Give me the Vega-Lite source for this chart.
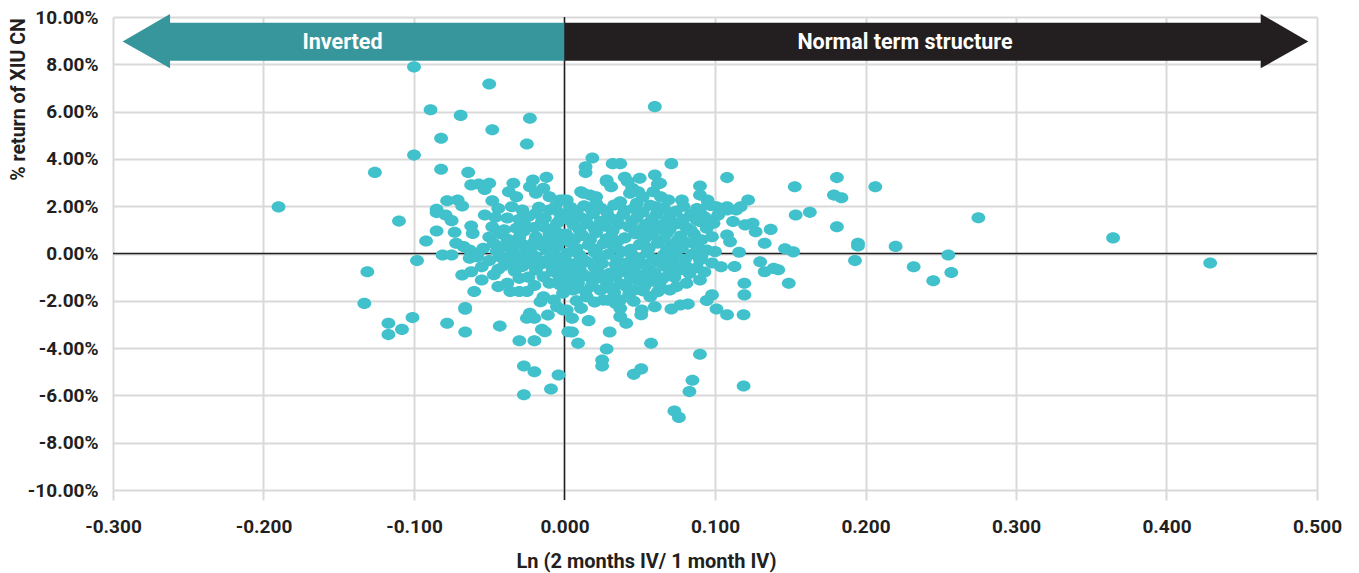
{
"$schema":"https://vega.github.io/schema/vega-lite/v6.json",
"width":1204,"height":473,
"autosize":{"type":"none"},
"padding":{"left":113,"top":17,"right":42,"bottom":83},
"background":"white",
"config":{"font":"Roboto","view":{"stroke":null}},
"encoding":{
 "x":{"field":"x","type":"quantitative","scale":{"domain":[-0.3,0.5],"nice":false,"zero":false},
  "axis":{"title":"Ln (2 months IV/ 1 month IV)","values":[-0.3,-0.2,-0.1,0,0.1,0.2,0.3,0.4,0.5],
   "labelExpr":"replace(format(datum.value,'.3f'),'\u2212','-')","domain":false,"grid":true,"gridColor":"#D9D9D9","gridWidth":2,
   "ticks":true,"tickColor":"#D9D9D9","tickWidth":2,"tickSize":10,"labelPadding":32,"labelBaseline":"alphabetic",
   "labelFont":"Roboto","labelFontWeight":"bold","labelFontSize":19,"labelColor":"#231F20","labelFlush":false,"labelOverlap":false,
   "titleFont":"Roboto","titleFontWeight":"bold","titleFontSize":20,"titleColor":"#231F20","titleX":533,"titleY":77,"titleBaseline":"alphabetic","titleAlign":"center"}},
 "y":{"field":"y","type":"quantitative","scale":{"domain":[-10,10],"nice":false,"zero":false},
  "axis":{"title":"% return of XIU CN","values":[-10,-8,-6,-4,-2,0,2,4,6,8,10],
   "labelExpr":"replace(format(datum.value,'.2f'),'\u2212','-')+'%'","domain":false,"grid":true,"gridColor":"#D9D9D9","gridWidth":2,
   "ticks":false,"labelPadding":15,"labelBaseline":"middle",
   "labelFont":"Roboto","labelFontWeight":"bold","labelFontSize":19,"labelColor":"#231F20","labelFlush":false,"labelOverlap":false,
   "titleFont":"Roboto","titleFontWeight":"bold","titleFontSize":19.5,"titleColor":"#231F20","titleX":-95,"titleY":82,"titleAngle":-90,"titleBaseline":"middle","titleAlign":"center"}}
},
"layer":[
 {"data":{"values":[{"x":0,"y":10,"y2":-10.42}]},"mark":{"type":"rule","color":"#231F20","strokeWidth":1.5},
  "encoding":{"y2":{"field":"y2"}}},
 {"data":{"values":[{"x":-0.3,"x2":0.5,"y":0}]},"mark":{"type":"rule","color":"#231F20","strokeWidth":1.5},
  "encoding":{"x2":{"field":"x2"}}},
 {"data":{"values":[
{"x":-0.100,"y":7.89},{"x":-0.050,"y":7.17},{"x":-0.089,"y":6.08},{"x":-0.069,"y":5.84},{"x":-0.023,"y":5.72},{"x":-0.048,"y":5.23},{"x":-0.082,"y":4.87},{"x":-0.025,"y":4.63},{"x":-0.100,"y":4.16},{"x":-0.126,"y":3.43},{"x":-0.082,"y":3.56},{"x":-0.064,"y":3.43},
{"x":-0.062,"y":2.90},{"x":-0.057,"y":2.94},{"x":-0.050,"y":2.97},{"x":-0.053,"y":2.71},{"x":-0.034,"y":2.97},{"x":-0.037,"y":2.61},{"x":-0.032,"y":2.40},{"x":-0.021,"y":3.11},{"x":-0.012,"y":3.22},{"x":-0.023,"y":2.82},{"x":-0.014,"y":2.76},{"x":-0.019,"y":2.55},{"x":-0.010,"y":2.40},{"x":-0.001,"y":2.26},{"x":-0.048,"y":2.23},{"x":-0.078,"y":2.23},{"x":-0.071,"y":2.26},{"x":-0.068,"y":2.01},{"x":-0.085,"y":1.87},
{"x":0.060,"y":6.21},{"x":0.0185,"y":4.04},{"x":0.014,"y":3.67},{"x":0.014,"y":3.42},{"x":0.032,"y":3.80},{"x":0.037,"y":3.80},{"x":0.071,"y":3.80},{"x":0.028,"y":3.11},{"x":0.031,"y":2.82},{"x":0.040,"y":3.22},{"x":0.042,"y":3.04},{"x":0.050,"y":3.18},{"x":0.060,"y":3.32},{"x":0.062,"y":2.94},{"x":0.045,"y":2.76},{"x":0.049,"y":2.61},{"x":0.052,"y":2.40},{"x":0.059,"y":2.61},{"x":0.064,"y":2.40},{"x":0.069,"y":2.26},{"x":0.078,"y":2.26},{"x":0.090,"y":2.85},{"x":0.090,"y":2.47},{"x":0.095,"y":2.26},{"x":0.108,"y":3.21},{"x":0.122,"y":2.26},{"x":0.153,"y":2.82},{"x":0.011,"y":2.61},{"x":0.017,"y":2.47},{"x":0.021,"y":2.40},{"x":0.0015,"y":2.26},{"x":-0.003,"y":2.26},{"x":0.108,"y":1.98},{"x":0.117,"y":1.98},{"x":0.028,"y":3.04},{"x":0.0635,"y":2.97},{"x":0.0125,"y":2.55},{"x":0.021,"y":2.12},{"x":0.037,"y":2.19},{"x":0.0435,"y":2.55},{"x":0.048,"y":2.12},{"x":0.061,"y":1.98},{"x":0.0955,"y":2.12},{"x":0.101,"y":1.98},{"x":0.108,"y":1.84},{"x":0.114,"y":1.84},{"x":-0.003,"y":1.42},
{"x":-0.110,"y":1.37},{"x":-0.085,"y":1.73},{"x":-0.079,"y":1.63},{"x":-0.075,"y":1.39},{"x":-0.085,"y":0.95},{"x":-0.092,"y":0.53},{"x":-0.073,"y":0.90},{"x":-0.062,"y":1.16},{"x":-0.061,"y":0.85},{"x":-0.053,"y":1.63},{"x":-0.046,"y":1.53},{"x":-0.048,"y":1.13},{"x":-0.043,"y":0.85},{"x":-0.072,"y":0.43},{"x":-0.067,"y":0.29},{"x":-0.063,"y":0.15},{"x":-0.058,"y":0.01},{"x":-0.054,"y":0.22},{"x":-0.081,"y":-0.06},{"x":-0.075,"y":-0.06},{"x":-0.063,"y":-0.20},{"x":-0.058,"y":-0.14},{"x":-0.047,"y":0.43},{"x":-0.041,"y":0.29},{"x":-0.043,"y":-0.14},
{"x":-0.035,"y":1.98},{"x":-0.028,"y":1.84},{"x":-0.024,"y":1.56},{"x":-0.032,"y":1.07},{"x":-0.025,"y":1.13},{"x":-0.019,"y":1.70},{"x":-0.010,"y":1.84},{"x":-0.003,"y":1.70},{"x":-0.014,"y":1.13},{"x":-0.005,"y":1.28},{"x":-0.027,"y":0.36},{"x":-0.023,"y":0.15},{"x":-0.019,"y":-0.14},{"x":-0.012,"y":0.15},{"x":-0.005,"y":0.29},{"x":-0.001,"y":0.57},{"x":-0.010,"y":0.85},{"x":-0.019,"y":0.71},{"x":-0.023,"y":-0.41},{"x":-0.019,"y":-0.70},{"x":-0.014,"y":-0.98},{"x":-0.010,"y":-1.26},{"x":-0.005,"y":-0.84},{"x":-0.001,"y":-0.56},{"x":-0.014,"y":-1.83},{"x":-0.007,"y":-1.97},{"x":-0.001,"y":-1.68},
{"x":-0.098,"y":-0.30},{"x":-0.131,"y":-0.77},{"x":-0.133,"y":-2.11},{"x":-0.068,"y":-0.91},{"x":-0.062,"y":-0.77},{"x":-0.055,"y":-0.56},{"x":-0.055,"y":-1.12},{"x":-0.060,"y":-1.61},{"x":-0.044,"y":-0.67},{"x":-0.034,"y":-0.41},{"x":-0.044,"y":-1.40},{"x":-0.038,"y":-1.26},{"x":-0.036,"y":-1.61},{"x":-0.030,"y":-1.61},{"x":-0.025,"y":-1.61},{"x":-0.030,"y":-1.05},{"x":-0.066,"y":-2.28},
{"x":-0.050,"y":0.70},{"x":-0.038,"y":0.60},{"x":-0.030,"y":0.70},{"x":-0.040,"y":1.00},{"x":-0.035,"y":0.00},{"x":-0.028,"y":-0.20},{"x":-0.050,"y":-0.30},{"x":-0.047,"y":-0.90},{"x":-0.044,"y":1.90},{"x":-0.017,"y":1.95},{"x":-0.006,"y":2.00},{"x":-0.038,"y":1.50},{"x":-0.030,"y":1.45},{"x":-0.013,"y":1.50},{"x":-0.008,"y":1.05},{"x":-0.020,"y":1.10},{"x":-0.007,"y":0.70},{"x":-0.034,"y":0.30},{"x":-0.016,"y":0.35},{"x":-0.009,"y":0.05},{"x":-0.029,"y":-0.05},{"x":-0.004,"y":-0.15},{"x":-0.040,"y":-0.50},{"x":-0.016,"y":-0.45},{"x":-0.009,"y":-0.50},{"x":-0.024,"y":-1.00},{"x":-0.003,"y":-1.05},{"x":-0.020,"y":-1.35},
{"x":-0.045,"y":0.10},{"x":-0.040,"y":-0.25},{"x":-0.033,"y":-0.75},{"x":-0.020,"y":0.50},{"x":-0.027,"y":0.95},{"x":-0.012,"y":-0.30},{"x":-0.015,"y":1.35},{"x":-0.022,"y":0.00},{"x":-0.036,"y":0.45},{"x":-0.008,"y":-0.75},{"x":-0.028,"y":-0.55},{"x":-0.004,"y":0.85},{"x":-0.012,"y":0.55},
{"x":0.137,"y":1.02},{"x":0.133,"y":0.43},{"x":0.125,"y":1.28},{"x":0.127,"y":0.92},{"x":0.120,"y":1.21},{"x":0.112,"y":1.35},{"x":0.108,"y":0.78},{"x":0.1465,"y":0.20},{"x":0.152,"y":0.07},{"x":0.130,"y":-0.35},{"x":0.133,"y":-0.77},{"x":0.139,"y":-0.63},{"x":0.142,"y":-0.69},{"x":0.149,"y":-1.26},{"x":0.1195,"y":-1.26},{"x":0.1195,"y":-1.75},{"x":0.104,"y":-0.56},{"x":0.100,"y":0.08},{"x":0.098,"y":-1.75},{"x":0.0945,"y":-1.99},{"x":0.090,"y":-1.12},{"x":0.081,"y":-1.26},{"x":0.0745,"y":-1.40},{"x":0.0756,"y":-0.63},{"x":0.057,"y":-1.83},{"x":0.070,"y":-1.54},{"x":0.0945,"y":1.07},{"x":0.098,"y":0.71},{"x":0.090,"y":1.35},{"x":0.0856,"y":0.43},{"x":0.0945,"y":0.15},{"x":0.090,"y":-0.27},{"x":0.081,"y":-0.56},{"x":0.0745,"y":-0.70},{"x":0.057,"y":-1.12},{"x":0.0635,"y":-1.40},{"x":0.048,"y":-1.12},{"x":0.041,"y":-1.40},{"x":0.0058,"y":-1.54},{"x":0.0147,"y":-1.83},{"x":0.0258,"y":-1.97},{"x":0.037,"y":-1.97},{"x":-0.003,"y":-1.33},{"x":0.0513,"y":-2.39},{"x":0.110,"y":0.50},{"x":0.116,"y":0.05},{"x":0.113,"y":-0.55},
{"x":0.1536,"y":1.63},{"x":0.163,"y":1.74},{"x":0.181,"y":3.21},{"x":0.179,"y":2.47},{"x":0.184,"y":2.36},{"x":0.2065,"y":2.82},{"x":0.181,"y":1.13},{"x":0.195,"y":0.43},{"x":0.195,"y":0.32},{"x":0.220,"y":0.30},{"x":0.275,"y":1.51},{"x":0.255,"y":-0.06},{"x":0.193,"y":-0.30},{"x":0.232,"y":-0.56},{"x":0.257,"y":-0.80},{"x":0.245,"y":-1.15},{"x":0.3645,"y":0.66},{"x":0.429,"y":-0.40},{"x":-0.190,"y":1.97},
{"x":-0.117,"y":-2.95},{"x":-0.117,"y":-3.43},{"x":-0.108,"y":-3.21},{"x":-0.101,"y":-2.71},{"x":-0.078,"y":-2.95},{"x":-0.066,"y":-2.36},{"x":-0.066,"y":-3.32},{"x":-0.043,"y":-3.07},{"x":-0.030,"y":-3.69},{"x":-0.020,"y":-3.69},{"x":-0.023,"y":-2.53},{"x":-0.025,"y":-2.74},{"x":-0.020,"y":-2.74},{"x":-0.015,"y":-3.21},{"x":-0.013,"y":-3.31},{"x":-0.011,"y":-2.60},{"x":-0.005,"y":-2.25},{"x":-0.001,"y":-2.39},{"x":0.0025,"y":-3.31},{"x":-0.016,"y":-2.04},{"x":-0.027,"y":-4.76},{"x":-0.020,"y":-5.00},{"x":-0.004,"y":-5.14},{"x":-0.009,"y":-5.73},{"x":-0.027,"y":-5.97},
{"x":0.005,"y":-2.74},{"x":0.0015,"y":-2.39},{"x":0.011,"y":-2.32},{"x":0.016,"y":-2.84},{"x":0.005,"y":-3.32},{"x":0.009,"y":-3.80},{"x":0.030,"y":-3.32},{"x":0.028,"y":-4.04},{"x":0.025,"y":-4.50},{"x":0.025,"y":-4.76},{"x":0.034,"y":-2.11},{"x":0.037,"y":-2.32},{"x":0.037,"y":-2.67},{"x":0.041,"y":-2.95},{"x":0.051,"y":-2.59},{"x":0.060,"y":-2.25},{"x":0.0575,"y":-3.80},{"x":0.046,"y":-5.11},{"x":0.051,"y":-4.88},{"x":0.071,"y":-2.35},{"x":0.077,"y":-2.18},{"x":0.082,"y":-2.14},{"x":0.101,"y":-2.35},{"x":0.108,"y":-2.59},{"x":0.119,"y":-2.59},{"x":0.090,"y":-4.26},{"x":0.085,"y":-5.36},{"x":0.083,"y":-5.84},{"x":0.119,"y":-5.60},{"x":0.073,"y":-6.66},{"x":0.076,"y":-6.93},
{"x":0.004,"y":1.95},{"x":0.013,"y":2.02},{"x":0.024,"y":1.92},{"x":0.033,"y":2.05},{"x":0.046,"y":1.90},{"x":0.057,"y":2.04},{"x":0.066,"y":1.93},{"x":0.079,"y":2.00},{"x":0.088,"y":1.90},{"x":0.097,"y":2.03},
{"x":0.002,"y":1.62},{"x":0.010,"y":1.55},{"x":0.019,"y":1.68},{"x":0.029,"y":1.58},{"x":0.039,"y":1.65},{"x":0.048,"y":1.52},{"x":0.061,"y":1.64},{"x":0.070,"y":1.57},{"x":0.084,"y":1.66},{"x":0.093,"y":1.55},{"x":0.102,"y":1.62},
{"x":0.006,"y":1.20},{"x":0.015,"y":1.27},{"x":0.027,"y":1.15},{"x":0.036,"y":1.24},{"x":0.043,"y":1.12},{"x":0.054,"y":1.22},{"x":0.064,"y":1.18},{"x":0.075,"y":1.26},{"x":0.081,"y":1.10},{"x":0.099,"y":1.28},
{"x":0.001,"y":0.82},{"x":0.012,"y":0.76},{"x":0.021,"y":0.88},{"x":0.031,"y":0.72},{"x":0.047,"y":0.84},{"x":0.058,"y":0.78},{"x":0.068,"y":0.86},{"x":0.077,"y":0.74},{"x":0.086,"y":0.82},
{"x":-0.008,"y":0.40},{"x":0.004,"y":0.45},{"x":0.016,"y":0.36},{"x":0.026,"y":0.42},{"x":0.035,"y":0.50},{"x":0.050,"y":0.38},{"x":0.062,"y":0.44},{"x":0.071,"y":0.35},{"x":0.080,"y":0.48},
{"x":0.002,"y":0.02},{"x":0.010,"y":-0.06},{"x":0.020,"y":0.05},{"x":0.029,"y":-0.03},{"x":0.038,"y":0.08},{"x":0.045,"y":-0.08},{"x":0.055,"y":0.03},{"x":0.066,"y":-0.05},{"x":0.074,"y":0.06},{"x":0.085,"y":-0.02},
{"x":-0.006,"y":-0.38},{"x":0.006,"y":-0.44},{"x":0.015,"y":-0.35},{"x":0.025,"y":-0.42},{"x":0.034,"y":-0.46},{"x":0.043,"y":-0.36},{"x":0.052,"y":-0.43},{"x":0.063,"y":-0.38},{"x":0.072,"y":-0.30},{"x":0.098,"y":-0.40},
{"x":0.003,"y":-0.80},{"x":0.012,"y":-0.86},{"x":0.022,"y":-0.76},{"x":0.030,"y":-0.84},{"x":0.041,"y":-0.78},{"x":0.049,"y":-0.88},{"x":0.060,"y":-0.82},{"x":0.069,"y":-0.92},{"x":0.083,"y":-0.85},{"x":0.093,"y":-0.78},
{"x":0.001,"y":-1.18},{"x":0.009,"y":-1.25},{"x":0.019,"y":-1.15},{"x":0.028,"y":-1.22},{"x":0.037,"y":-1.28},{"x":0.046,"y":-1.55},{"x":0.056,"y":-1.20},{"x":0.065,"y":-1.08},{"x":0.073,"y":-1.00},
{"x":0.014,"y":-1.60},{"x":0.024,"y":-1.55},{"x":0.033,"y":-1.65},{"x":0.043,"y":-1.70},{"x":0.052,"y":-1.58},{"x":0.062,"y":-1.62},
{"x":0.008,"y":-2.00},{"x":0.020,"y":-2.05},{"x":0.029,"y":-1.98},{"x":0.046,"y":-2.02},
{"x":0.008,"y":1.80},{"x":0.018,"y":1.85},{"x":0.028,"y":1.78},{"x":0.040,"y":1.82},{"x":0.052,"y":1.75},{"x":0.063,"y":1.85},{"x":0.074,"y":1.78},{"x":0.090,"y":1.75},
{"x":0.004,"y":1.40},{"x":0.014,"y":1.45},{"x":0.024,"y":1.35},{"x":0.034,"y":1.42},{"x":0.045,"y":1.36},{"x":0.058,"y":1.44},{"x":0.068,"y":1.38},{"x":0.079,"y":1.45},{"x":0.088,"y":1.40},{"x":0.096,"y":1.36},
{"x":0.010,"y":1.00},{"x":0.020,"y":1.05},{"x":0.032,"y":0.96},{"x":0.051,"y":1.02},{"x":0.060,"y":0.98},{"x":0.070,"y":1.04},{"x":0.084,"y":0.98},
{"x":0.007,"y":0.62},{"x":0.017,"y":0.58},{"x":0.028,"y":0.62},{"x":0.040,"y":0.66},{"x":0.053,"y":0.60},{"x":0.066,"y":0.62},{"x":0.075,"y":0.55},{"x":0.091,"y":0.58},
{"x":0.008,"y":0.22},{"x":0.021,"y":0.18},{"x":0.033,"y":0.25},{"x":0.044,"y":0.18},{"x":0.056,"y":0.22},{"x":0.068,"y":0.15},{"x":0.078,"y":0.24},{"x":0.089,"y":0.20},
{"x":0.000,"y":-0.20},{"x":0.012,"y":-0.24},{"x":0.023,"y":-0.18},{"x":0.035,"y":-0.25},{"x":0.049,"y":-0.20},{"x":0.059,"y":-0.22},{"x":0.070,"y":-0.14},{"x":0.080,"y":-0.25},{"x":0.091,"y":-0.12},
{"x":0.010,"y":-0.62},{"x":0.020,"y":-0.58},{"x":0.037,"y":-0.64},{"x":0.046,"y":-0.58},{"x":0.056,"y":-0.65},{"x":0.067,"y":-0.55},{"x":0.078,"y":-0.68},{"x":0.088,"y":-0.60},
{"x":0.007,"y":-1.00},{"x":0.016,"y":-0.98},{"x":0.025,"y":-1.04},{"x":0.034,"y":-0.96},{"x":0.044,"y":-1.02},{"x":0.051,"y":-0.95},{"x":0.061,"y":-1.00},
{"x":0.005,"y":-1.40},{"x":0.018,"y":-1.38},{"x":0.030,"y":-1.45},{"x":0.053,"y":-1.40}
 ]},
  "mark":{"type":"point","filled":true,"opacity":1,"color":"#40C1CB","strokeWidth":0,"size":192,"shape":"M-1,0A1,0.8,0,1,0,1,0A1,0.8,0,1,0,-1,0Z"}},
 {"data":{"values":[{"arrow":"Inverted","x":-0.2625,"x2":0,"y":9.76,"y2":8.15},{"arrow":"Normal","x":0,"x2":0.463,"y":9.76,"y2":8.15}]},
  "mark":{"type":"rect","strokeWidth":0},
  "encoding":{"x2":{"field":"x2"},"y2":{"field":"y2"},"color":{"field":"arrow","type":"nominal","scale":{"domain":["Inverted","Normal"],"range":["#37969B","#231F20"]},"legend":null}}},
 {"data":{"values":[{"arrow":"Inverted","x":-0.2936,"y":8.96,"y2":8.96},{"arrow":"Inverted","x":-0.2621,"y":10.13,"y2":7.83},{"arrow":"Normal","x":0.4626,"y":10.13,"y2":7.83},{"arrow":"Normal","x":0.4942,"y":8.96,"y2":8.96}]},
  "mark":{"type":"area","orient":"vertical","strokeWidth":0},
  "encoding":{"y2":{"field":"y2"},"color":{"field":"arrow","type":"nominal","scale":{"domain":["Inverted","Normal"],"range":["#37969B","#231F20"]},"legend":null}}},
 {"data":{"values":[{"label":"Inverted","x":-0.1475,"y":8.63},{"label":"Normal term structure","x":0.2262,"y":8.63}]},
  "mark":{"type":"text","color":"white","font":"Roboto","fontWeight":"bold","fontSize":21.5,"align":"center","baseline":"alphabetic"},
  "encoding":{"text":{"field":"label"}}}
]
}
